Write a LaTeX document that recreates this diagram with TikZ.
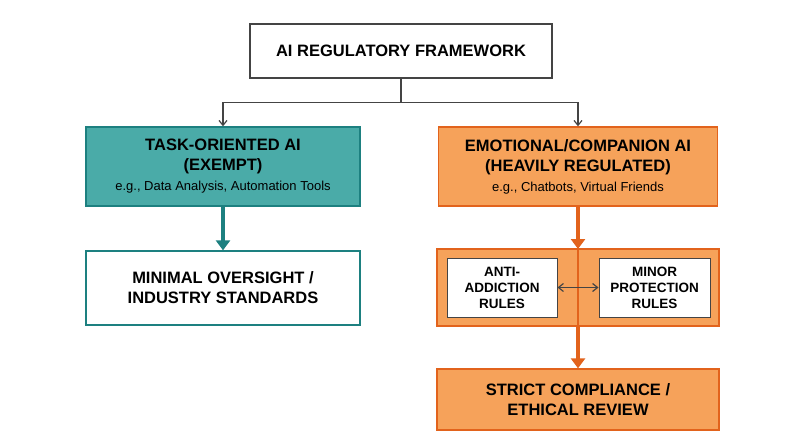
\documentclass[tikz,border=0pt]{standalone}
\usepackage{fontspec}
\setmainfont{Liberation Sans}
\usetikzlibrary{arrows.meta}
\definecolor{teal1}{HTML}{4AABA8}
\definecolor{teal2}{HTML}{1D8080}
\definecolor{or1}{HTML}{F6A25A}
\definecolor{or2}{HTML}{E2631C}
\definecolor{gr}{HTML}{444444}
\begin{document}
\begin{tikzpicture}[x=1pt,y=-1pt,
  box/.style={draw, line width=1.3pt, minimum width=#1, inner sep=0pt, align=center, font=\bfseries\fontsize{16.5}{20}\selectfont}]
\useasboundingbox (0,0) rectangle (800,447);
\fill[white] (0,0) rectangle (800,447);
\node[box=302pt, minimum height=54pt, draw=gr] (top) at (401,51) {AI REGULATORY FRAMEWORK};
\node[box=274pt, minimum height=79pt, fill=teal1, draw=teal2] (task) at (223,166.5) {TASK-ORIENTED AI\\(EXEMPT)\\[0pt]{\normalfont\fontsize{13}{15}\selectfont e.g., Data Analysis, Automation Tools}};
\node[box=279pt, minimum height=79pt, fill=or1, draw=or2] (emo) at (578,166.5) {EMOTIONAL/COMPANION AI\\(HEAVILY REGULATED)\\[0pt]{\normalfont\fontsize{13}{15}\selectfont e.g., Chatbots, Virtual Friends}};
\node[box=274pt, minimum height=74pt, fill=white, draw=teal2] (min) at (223,288) {MINIMAL OVERSIGHT /\\INDUSTRY STANDARDS};
\node[box=282pt, minimum height=77pt, fill=or1, draw=or2] (grp) at (578,287.5) {};
\coordinate (gtop) at (578,249);
\coordinate (gbot) at (578,326);
\draw[or2, line width=2.2pt] (gtop) -- (gbot);
\node[box=110pt, minimum height=59pt, fill=white, draw=gr, line width=1pt, font=\bfseries\fontsize{13.5}{16}\selectfont] (anti) at (502,287.5) {ANTI-\\ADDICTION\\RULES};
\node[box=111pt, minimum height=59pt, fill=white, draw=gr, line width=1pt, font=\bfseries\fontsize{13.5}{16}\selectfont] (minor) at (654.5,287.5) {MINOR\\PROTECTION\\RULES};
\node[box=282pt, minimum height=61pt, fill=or1, draw=or2] (strict) at (578,399.5) {STRICT COMPLIANCE /\\ETHICAL REVIEW};
\draw[gr, line width=1.2pt, -{Straight Barb[length=5pt,width=8pt]}] (top.south) -- ++(0,24) -| (task.north);
\draw[gr, line width=1.2pt, -{Straight Barb[length=5pt,width=8pt]}] (top.south) -- ++(0,24) -| (emo.north);
\draw[teal2, line width=3.5pt, -{Triangle[length=10pt,width=14pt]}] (task.south) -- (min.north);
\draw[or2, line width=3.5pt, -{Triangle[length=10pt,width=14pt]}] (emo.south) -- (gtop);
\draw[or2, line width=3.5pt, -{Triangle[length=10pt,width=14pt]}] (gbot) -- (strict.north);
\draw[gr, line width=1.2pt, {Straight Barb[length=5pt,width=8pt]}-{Straight Barb[length=5pt,width=8pt]}] (anti.east) -- (minor.west);
\end{tikzpicture}
\end{document}
